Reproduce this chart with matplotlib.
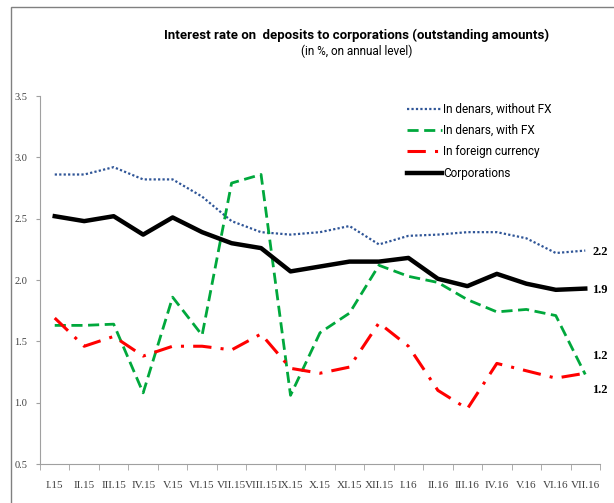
import numpy as np
import matplotlib.pyplot as plt
import matplotlib.patches as mpatches

months = ['I.15', 'II.15', 'III.15', 'IV.15', 'V.15', 'VI.15', 'VII.15', 'VIII.15', 'IX.15',
          'X.15', 'XI.15', 'XII.15', 'I.16', 'II.16', 'III.16', 'IV.16', 'V.16', 'VI.16', 'VII.16']

denars_no_fx = [2.86, 2.86, 2.92, 2.82, 2.82, 2.68, 2.48, 2.39, 2.37, 2.39,
                2.44, 2.29, 2.36, 2.37, 2.39, 2.39, 2.34, 2.22, 2.24]
denars_fx = [1.63, 1.63, 1.64, 1.08, 1.86, 1.55, 2.79, 2.86, 1.06, 1.57,
             1.73, 2.12, 2.03, 1.98, 1.84, 1.74, 1.76, 1.71, 1.23]
foreign = [1.69, 1.46, 1.54, 1.38, 1.46, 1.46, 1.43, 1.56, 1.28, 1.24,
           1.29, 1.65, 1.46, 1.10, 0.95, 1.32, 1.26, 1.20, 1.24]
corporations = [2.52, 2.48, 2.52, 2.37, 2.51, 2.39, 2.30, 2.26, 2.07, 2.11,
                2.15, 2.15, 2.18, 2.01, 1.95, 2.05, 1.97, 1.92, 1.93]

end_labels = ['2.2', '1.9', '1.2', '1.2']

narrow = ['Roboto', 'DejaVu Sans']
serif = ['Liberation Serif', 'DejaVu Serif']

fig = plt.figure(figsize=(6.14, 5.03), dpi=100)
ax = fig.add_axes([40 / 614, 1 - 464 / 503, 560 / 614, 368 / 503])

x = np.arange(len(months))
ax.plot(x, denars_no_fx, color='#2F5597', lw=1.6, linestyle=(0, (1, 1)), label='In denars, without FX')
ax.plot(x, denars_fx, color='#00A83C', lw=2, linestyle=(0, (4, 2)), label='In denars, with FX')
ax.plot(x, foreign, color='#FF0000', lw=2.2, linestyle=(0, (6, 3, 1, 3)), label='In foreign currency')
ax.plot(x, corporations, color='black', lw=3.2, label='Corporations')

# labels at the end of the series
label_y = [denars_no_fx[-1], corporations[-1], denars_fx[-1], foreign[-1]]
offsets = [-1, -1, 13, -12]
for lab, yv, off in zip(end_labels, label_y, offsets):
    ax.annotate(lab, xy=(x[-1], yv), xytext=(5, off), textcoords='offset points',
                fontsize=9, fontweight='bold', family=serif, va='center')

ax.set_xlim(-0.5, len(months) - 0.5)
ax.set_ylim(0.5, 3.5)
ax.set_yticks(np.arange(0.5, 3.51, 0.5))
ax.set_yticklabels(['%.1f' % v for v in np.arange(0.5, 3.51, 0.5)], family=serif, fontsize=7.5, color='#404040')
ax.set_xticks(x)
ax.set_xticklabels(months, family=serif, fontsize=8, color='#404040')
ax.set_xticks(np.arange(-0.5, len(months)), minor=True)
ax.tick_params(axis='x', which='major', length=0, pad=12)
ax.tick_params(axis='x', which='minor', length=4, color='#A0A0A0')
ax.tick_params(axis='y', length=3, color='#A0A0A0', pad=6)

for s in ['top', 'right']:
    ax.spines[s].set_visible(False)
ax.spines['left'].set_color('#A0A0A0')
ax.spines['bottom'].set_color('#A0A0A0')

leg = ax.legend(loc='upper left', bbox_to_anchor=(0.636, 1.01), frameon=False, handlelength=3,
                handletextpad=0.1, labelspacing=0.7, prop={'family': narrow, 'size': 8.5})

fig.text(357 / 614, 1 - 35 / 503, 'Interest rate on  deposits to corporations (outstanding amounts)',
         ha='center', va='center', fontsize=9.5, fontweight='bold', family=narrow)
fig.text(357 / 614, 1 - 51 / 503, '(in %, on annual level)', ha='center', va='center',
         fontsize=8.5, family=narrow)

border = mpatches.Rectangle((11 / 614, -0.1), 1.2, 1 - 7 / 503 + 0.1, transform=fig.transFigure,
                            fill=False, edgecolor='#808080', lw=1)
fig.patches.append(border)

fig.savefig('out.png', dpi=100)
